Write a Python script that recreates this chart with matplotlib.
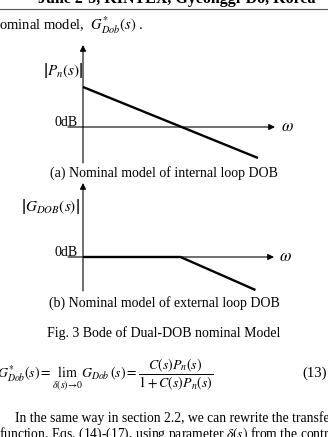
import matplotlib.pyplot as plt

plt.rcParams['font.family'] = ['Liberation Serif', 'DejaVu Serif']
plt.rcParams['mathtext.fontset'] = 'stix'

# Bode asymptotes (x in decades of omega, y in dB)
internal_logw = [0.0, 3.5]
internal_db = [40, -31]
external_logw = [0.0, 1.95, 3.45]
external_db = [0, 0, -33]

W, H = 328, 437
fig = plt.figure(figsize=(W / 100, H / 100), dpi=100)


def px(x, y):
    return x / W, 1 - y / H


def txt(x, y, s, **kw):
    fig.text(*px(x, y), s, **kw)


def draw_diagram(top, bottom, zero_y, arrow_top, logw, db, w_arrow):
    # axes box in pixels: x 60..300, y top..bottom
    l, b = px(60, bottom)
    ax = fig.add_axes([l, b, 240 / W, (bottom - top) / H])
    ax.set_xlim((60 - 83) / 50, (300 - 83) / 50)
    ax.set_ylim(zero_y - bottom, zero_y - top)
    ax.set_axis_off()
    arrow = dict(arrowstyle='-|>', mutation_scale=9, lw=0.8, color='black',
                 shrinkA=0, shrinkB=0)
    ax.annotate('', xy=(0, zero_y - arrow_top), xytext=(0, zero_y - bottom + 7),
                arrowprops=arrow)
    ax.annotate('', xy=((w_arrow - 83) / 50, 0), xytext=(-0.3, 0),
                arrowprops=arrow)
    ax.plot(logw, db, color='black', lw=1.7, solid_capstyle='butt')
    return ax


ax_a = draw_diagram(40, 170, 127, 45, internal_logw, internal_db, 275)
ax_b = draw_diagram(178, 298, 257, 183, external_logw, external_db, 274)

# header
txt(38, 3, 'June 2-5, KINTEX, Gyeonggi-Do, Korea', fontsize=11.5,
    fontweight='bold', va='baseline')
fig.add_artist(plt.Line2D([0, 1], [1 - 9 / H] * 2, color='#555555', lw=0.8))
txt(-1, 25, r'ominal model,  $G^{*}_{Dob}(s)$ .', fontsize=10.5, va='center')

# diagram labels
txt(63, 70, r'$\left|P_n(s)\right|$', fontsize=11, ha='center', va='center')
txt(78, 122, '0dB', fontsize=10, ha='right', va='center')
txt(287, 127, r'$\omega$', fontsize=12, ha='center', va='center')
txt(164, 173, '(a) Nominal model of internal loop DOB', fontsize=10,
    ha='center', va='center')

txt(50, 207, r'$\left|G_{DOB}(s)\right|$', fontsize=11, ha='center', va='center')
txt(78, 252, '0dB', fontsize=10, ha='right', va='center')
txt(285, 257, r'$\omega$', fontsize=12, ha='center', va='center')
txt(164, 303, '(b) Nominal model of external loop DOB', fontsize=10,
    ha='center', va='center')

txt(164, 333, 'Fig. 3 Bode of Dual-DOB nominal Model', fontsize=10,
    ha='center', va='center')

# equation
txt(-3, 374, r'$G^{*}_{Dob}(s)=\lim_{\delta(s)\rightarrow 0}G_{Dob}(s)='
    r'\dfrac{C(s)P_n(s)}{1+C(s)P_n(s)}$', fontsize=10, va='center')
txt(302, 373, '(13)', fontsize=10.5, va='center')

txt(15, 418, 'In the same way in section 2.2, we can rewrite the transfer',
    fontsize=9.8, va='center')
txt(-1, 434, r'function. Eqs. (14)-(17), using parameter $\delta(s)$ from the control',
    fontsize=9.8, va='center')

fig.savefig('out.png', dpi=100)
